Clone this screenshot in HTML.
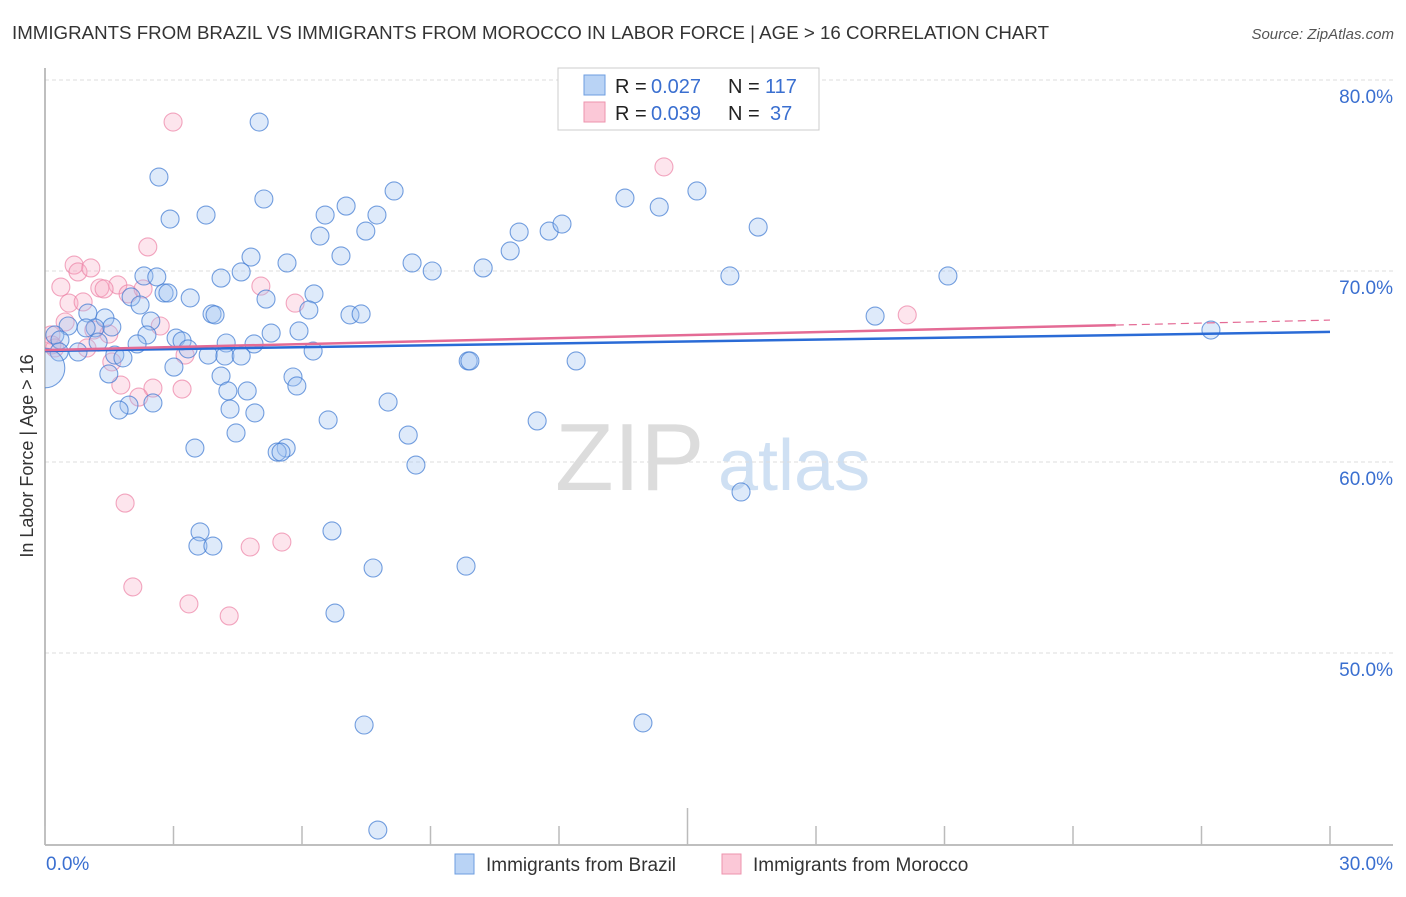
<!DOCTYPE html>
<html><head><meta charset="utf-8"><style>
body{margin:0;background:#fff;font-family:"Liberation Sans",sans-serif;}
svg text{font-family:"Liberation Sans",sans-serif;}
</style></head><body>
<svg id="chart" width="1406" height="892" xmlns="http://www.w3.org/2000/svg">
<defs><clipPath id="plotclip"><rect x="45" y="60" width="1360" height="785"/></clipPath></defs>
<text x="12" y="39" font-size="18" fill="#333" textLength="1037" lengthAdjust="spacingAndGlyphs">IMMIGRANTS FROM BRAZIL VS IMMIGRANTS FROM MOROCCO IN LABOR FORCE | AGE &gt; 16 CORRELATION CHART</text>
<text x="1394" y="39" font-size="15" fill="#555" text-anchor="end" font-style="italic">Source: ZipAtlas.com</text>
<g>
<text x="555" y="490" font-size="96" fill="#dcdcdc" font-family="Liberation Serif, serif">ZIP</text>
<text x="718" y="490" font-size="72" fill="#cfe0f3">atlas</text>
</g>
<g id="grid"></g>
<g id="axes"></g>
<g id="pts" clip-path="url(#plotclip)"></g>
<g id="trend"></g>
<text transform="translate(33,456) rotate(-90)" font-size="18" fill="#333" text-anchor="middle">In Labor Force | Age &gt; 16</text>
<g>
<rect x="558" y="68" width="261" height="62" fill="#fff" stroke="#ccc"/>
<rect x="584" y="75" width="21" height="20" fill="#b9d3f5" stroke="#6d9ee0"/>
<rect x="584" y="102" width="21" height="20" fill="#fbc8d7" stroke="#ee93ae"/>
<text x="615" y="93" font-size="20" fill="#222">R =</text>
<text x="651" y="93" font-size="20" fill="#3a6fd0">0.027</text>
<text x="728" y="93" font-size="20" fill="#222">N =</text>
<text x="765" y="93" font-size="20" fill="#3a6fd0">117</text>
<text x="615" y="120" font-size="20" fill="#222">R =</text>
<text x="651" y="120" font-size="20" fill="#3a6fd0">0.039</text>
<text x="728" y="120" font-size="20" fill="#222">N =</text>
<text x="770" y="120" font-size="20" fill="#3a6fd0">37</text>
</g>
<g>
<rect x="455" y="854" width="19" height="20" fill="#b9d3f5" stroke="#6d9ee0"/>
<text x="486" y="871" font-size="19" fill="#333">Immigrants from Brazil</text>
<rect x="722" y="854" width="19" height="20" fill="#fbc8d7" stroke="#ee93ae"/>
<text x="753" y="871" font-size="19" fill="#333">Immigrants from Morocco</text>
</g>
</svg>
<script>
const yTicks=[50,60,70,80];
const xTickLabels=["0.0%","30.0%"];
const brazilX=[5.00,2.66,5.11,8.15,2.92,3.76,6.54,7.03,7.75,6.42,7.49,4.81,6.91,5.65,8.57,9.04,10.23,10.86,11.07,11.77,12.07,13.54,14.34,15.22,16.65,15.99,21.08,4.11,4.58,2.31,2.61,2.78,2.87,3.39,2.01,2.22,5.16,6.28,3.90,3.97,2.47,6.16,1.40,1.00,5.28,5.93,7.12,7.38,1.56,1.17,0.96,0.54,2.38,3.06,3.20,2.15,3.34,4.23,4.88,6.26,1.24,0.23,0.35,0.77,0.33,1.63,1.82,3.81,4.20,4.58,9.88,9.92,12.40,19.38,27.22,3.01,1.49,4.11,5.79,5.88,4.27,4.72,1.96,2.52,1.73,4.32,4.90,8.01,6.61,11.49,4.46,8.48,3.50,5.63,5.42,5.51,8.66,16.25,3.62,6.70,3.57,3.92,7.66,9.83,6.77,7.45,13.96,7.77,0];
const brazilY=[77.80,74.92,73.77,74.19,72.72,72.93,72.93,73.40,72.93,71.83,72.09,70.73,70.79,70.42,70.42,70.00,70.16,71.05,72.04,72.09,72.46,73.82,73.35,74.19,72.30,69.74,69.74,69.63,69.95,69.74,69.69,68.85,68.85,68.59,68.64,68.22,68.53,68.80,67.75,67.70,67.38,67.96,67.54,67.80,66.75,66.86,67.70,67.75,67.07,67.02,67.02,67.12,66.65,66.49,66.34,66.18,65.92,66.23,66.18,65.81,66.28,66.65,66.39,65.76,65.76,65.60,65.45,65.60,65.55,65.55,65.29,65.29,65.29,67.64,66.91,64.97,64.61,64.50,64.45,63.98,63.72,63.72,62.98,63.09,62.72,62.77,62.57,63.14,62.20,62.15,61.52,61.41,60.73,60.73,60.52,60.52,59.84,58.43,56.34,56.39,55.60,55.60,54.45,54.55,52.09,46.23,46.34,40.73,64.92];
const brazilSize=brazilX.map((v,i)=>i===brazilX.length-1?2.2:1);
const moroccoX=[2.99,14.45,2.40,0.68,0.77,1.07,0.37,1.70,1.28,1.38,1.94,2.29,5.04,0.56,0.89,5.84,2.69,0.47,1.14,1.49,0.14,0.23,0.98,3.27,1.56,1.77,2.52,3.20,2.19,1.87,4.79,5.53,2.05,3.36,4.30,20.13,0.16];
const moroccoY=[77.80,75.45,71.26,70.31,69.95,70.16,69.16,69.27,69.11,69.06,68.80,69.06,69.21,68.32,68.38,68.32,67.12,67.33,66.91,66.70,66.65,65.97,65.97,65.60,65.24,64.03,63.87,63.82,63.40,57.85,55.55,55.81,53.46,52.57,51.94,67.70,66.13];
const brazilTrend=[65.81,66.81];
const moroccoTrend=[65.86,67.43];
const moroccoSolidEnd=25;

const NS="http://www.w3.org/2000/svg";
const X0=45,X1=1330,Y80=80,PX10=191;
const sx=v=>X0+(v/30)*(X1-X0);
const sy=v=>Y80+(80-v)/10*PX10;
function mk(tag,attrs,parent){const e=document.createElementNS(NS,tag);for(const k in attrs)e.setAttribute(k,attrs[k]);parent.appendChild(e);return e;}
const grid=document.getElementById('grid'),axes=document.getElementById('axes'),pts=document.getElementById('pts'),trend=document.getElementById('trend');
yTicks.forEach(t=>{
  const l=mk('line',{x1:X0,x2:1393,y1:sy(t),y2:sy(t),stroke:'#ddd','stroke-dasharray':'4,3'},grid);
  
  
  const tx=mk('text',{x:1393,y:sy(t)+23,'font-size':19,fill:'#3a6fd0','text-anchor':'end'},grid);
  tx.textContent=t.toFixed(1)+'%';
  
  
});
const ax=mk('line',{x1:X0,x2:X0,y1:68,y2:845,stroke:'#aaa','stroke-width':1.5},axes);


const bx=mk('line',{x1:X0,x2:1393,y1:845,y2:845,stroke:'#aaa','stroke-width':1.5},axes);


for(let i=0;i<=10;i++){
  const v=i*3;
  const tk=mk('line',{x1:sx(v),x2:sx(v),y1:(i===5?808:826),y2:845,stroke:'#bbb','stroke-width':1.5},axes);
  
  
}
[[0,'start',46],[30,'end',1393]].forEach((d,i)=>{
  const t=mk('text',{x:d[2],y:870,'font-size':19,fill:'#3a6fd0','text-anchor':d[1]},axes);
  t.textContent=xTickLabels[i];
  
  
});
moroccoX.forEach((x,i)=>{
  const c=mk('circle',{cx:sx(x),cy:sy(moroccoY[i]),r:9,fill:'rgba(248,170,195,0.3)',stroke:'rgba(236,130,165,0.7)','stroke-width':1.1},pts);
  
  
});
brazilX.forEach((x,i)=>{
  const c=mk('circle',{cx:sx(x),cy:sy(brazilY[i]),r:9*brazilSize[i],fill:'rgba(160,196,240,0.35)',stroke:'rgba(60,120,210,0.7)','stroke-width':1.1},pts);
  
  
});
const lerp=(a,x)=>a[0]+(a[1]-a[0])*x/30;
const tb=mk('line',{x1:sx(0),y1:sy(brazilTrend[0]),x2:sx(30),y2:sy(brazilTrend[1]),stroke:'#2a6bd6','stroke-width':2.5},trend);


const tm=mk('line',{x1:sx(0),y1:sy(moroccoTrend[0]),x2:sx(moroccoSolidEnd),y2:sy(lerp(moroccoTrend,moroccoSolidEnd)),stroke:'#e46b95','stroke-width':2.5},trend);


const td=mk('line',{x1:sx(moroccoSolidEnd),y1:sy(lerp(moroccoTrend,moroccoSolidEnd)),x2:sx(30),y2:sy(moroccoTrend[1]),stroke:'#e46b95','stroke-width':1.2,'stroke-dasharray':'8,5'},trend);


</script>
</body></html>
